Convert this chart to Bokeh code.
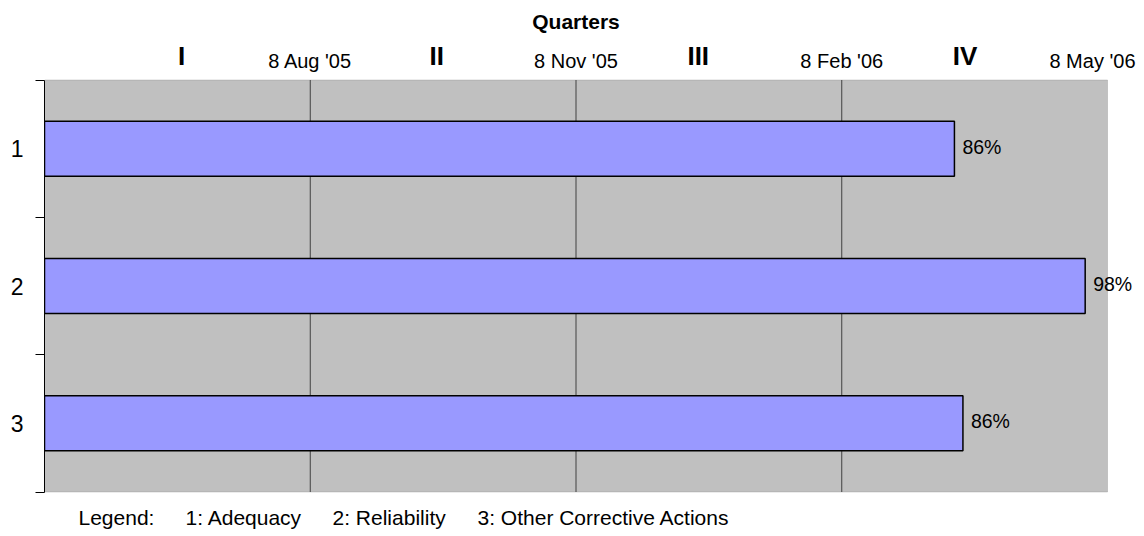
from bokeh.plotting import figure
from bokeh.models import Range1d, FixedTicker, ColumnDataSource, BoxAnnotation
from bokeh.core.properties import value
from bokeh.embed import file_html
from bokeh.resources import INLINE

# ---- data ----
categories = [1, 2, 3]
category_labels = ["1", "2", "3"]
completion = [85.6, 97.9, 86.4]          # percent of the year
pct_labels = [f"{round(v)}%" for v in completion]
date_ticks = [25, 50, 75, 100]
date_labels = ["8 Aug '05", "8 Nov '05", "8 Feb '06", "8 May '06"]
quarter_pos = [12.9, 36.9, 61.5, 86.6]
quarter_labels = ["I", "II", "III", "IV"]
legend_items = ["Legend:", "1: Adequacy", "2: Reliability", "3: Other Corrective Actions"]
title_text = "Quarters"

# ---- layout (pixels in the picture) ----
FONT = "Liberation Sans"
FIG_W, FIG_H = 1136, 532
AXIS_W = 44
PLOT_L, PLOT_R = AXIS_W, 1107
PLOT_T, PLOT_B = 79.5, 491.5
XU = (PLOT_R - PLOT_L) / 100.0
YU = (PLOT_B - PLOT_T) / 3.0

def px_x(px):
    return (px - PLOT_L) / XU

def px_y(py):
    return 0.5 + (py - PLOT_T) / YU

x_end = px_x(FIG_W)
y_top = px_y(0)
y_bot = px_y(FIG_H)

p = figure(width=FIG_W, height=FIG_H,
           min_border_left=AXIS_W, min_border_right=0, min_border_top=0, min_border_bottom=0,
           x_range=Range1d(0, x_end), y_range=Range1d(y_bot, y_top),
           x_axis_location=None, y_axis_location="left",
           output_backend="svg", toolbar_location=None, tools="")
p.background_fill_color = "white"
p.border_fill_color = "white"
p.outline_line_color = None
p.grid.visible = False

# plot area background
p.add_layout(BoxAnnotation(left=0, right=100, top=0.5, bottom=3.5,
                           fill_color="#C0C0C0", fill_alpha=1.0,
                           line_color="#808080", line_width=1, level="underlay"))

# vertical grid lines at the date ticks
gx = date_ticks[:3]
p.segment(x0=gx, x1=gx, y0=[0.5] * len(gx), y1=[3.5] * len(gx),
          line_color="#404040", line_width=1)

# left axis (categories)
ya = p.yaxis[0]
ya.bounds = (0.5, 3.5)
ya.ticker = FixedTicker(ticks=categories, minor_ticks=[0.5, 1.5, 2.5, 3.5])
ya.major_label_overrides = {c: l for c, l in zip(categories, category_labels)}
ya.major_tick_out = 0
ya.major_tick_in = 0
ya.minor_tick_out = 9
ya.minor_tick_in = 0
ya.minor_tick_line_color = "black"
ya.axis_line_color = "black"
ya.major_label_standoff = 12
ya.major_label_text_font = FONT
ya.major_label_text_font_size = "23px"
ya.major_label_text_color = "black"

# bars
src = ColumnDataSource(dict(y=categories, right=completion, label=pct_labels))
p.hbar(y="y", right="right", left=0, height=0.4, source=src,
       fill_color="#9999FF", line_color="black", line_width=1.5)
p.text(x="right", y="y", text="label", source=src, x_offset=8, y_offset=-2,
       text_baseline="middle", text_align="left",
       text_font=value(FONT), text_font_size=value("19.5px"), text_color="black")

# top labels: dates (tick labels), quarters, title
date_y = px_y(60)
p.text(x=date_ticks[:3], y=[date_y] * 3, text=date_labels[:3],
       text_align="center", text_baseline="middle",
       text_font=value(FONT), text_font_size=value("20px"), text_color="black")
p.text(x=[date_ticks[3]], y=[date_y], text=[date_labels[3]], x_offset=28,
       text_align="right", text_baseline="middle",
       text_font=value(FONT), text_font_size=value("20px"), text_color="black")

q_y = px_y(55)
p.text(x=quarter_pos, y=[q_y] * len(quarter_pos), text=quarter_labels,
       text_align="center", text_baseline="middle",
       text_font=value(FONT), text_font_size=value("26px"), text_font_style="bold",
       text_color="black")

p.text(x=[50], y=[px_y(20.5)], text=[title_text],
       text_align="center", text_baseline="middle",
       text_font=value(FONT), text_font_size=value("21px"), text_font_style="bold",
       text_color="black")

# legend line under the plot
legend_px = [78, 185, 332, 477]
p.text(x=[px_x(v) for v in legend_px], y=[px_y(517)] * len(legend_items), text=legend_items,
       text_align="left", text_baseline="middle",
       text_font=value(FONT), text_font_size=value("21px"), text_color="black")

open("out.html", "w").write(file_html(p, INLINE))
